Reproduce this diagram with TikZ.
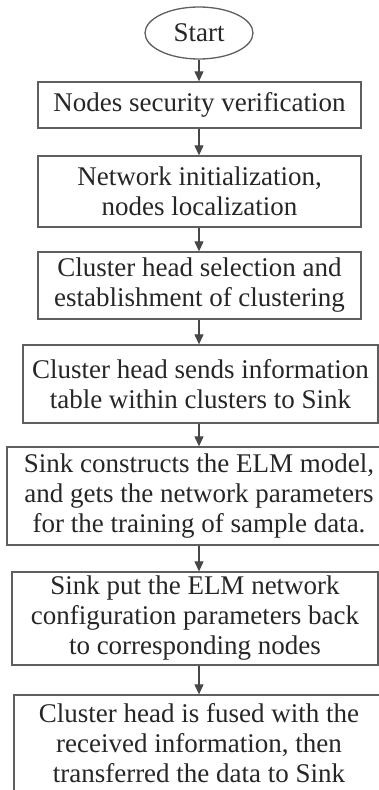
\documentclass[tikz,border=0pt]{standalone}
\usepackage{fontspec}
\setmainfont{Liberation Serif}
\usetikzlibrary{arrows.meta,shapes.geometric}

\definecolor{boxgray}{HTML}{5F5F5F}
\definecolor{arrowgray}{HTML}{474747}

\tikzset{
  box/.style = {draw = boxgray, line width = 1.3pt, align = center, inner sep = 0pt,
    font = \fontsize{27}{30}\selectfont, text = black!85},
  startbox/.style = {box, ellipse, minimum width = 108pt, minimum height = 52pt},
  flow/.style = {draw = arrowgray, line width = 1.1pt, -{Triangle[length = 10pt, width = 9pt]}}
}

\begin{document}
\begin{tikzpicture}
        [x = 1pt, y = -1pt]

        \useasboundingbox (0,0) rectangle (379,790);

        \node[startbox] (start) at (199,33) {Start};
        \node[box, minimum width = 323pt, minimum height = 46pt] (verify) at (199.5,105)
          {Nodes security verification};
        \node[box, minimum width = 323pt, minimum height = 71pt] (init) at (199.5,191.5)
          {Network initialization,\\ nodes localization};
        \node[box, minimum width = 323pt, minimum height = 67pt] (select) at (199.5,285.5)
          {Cluster head selection and\\ establishment of clustering};
        \node[box, minimum width = 355pt, minimum height = 78pt] (send) at (200.5,384)
          {Cluster head sends information\\ table within clusters to Sink};
        \node[box, minimum width = 384pt, minimum height = 98pt] (elm) at (199,496)
          {Sink constructs the ELM model,\\ and gets the network parameters\\ for the training of sample data.};
        \node[box, minimum width = 366pt, minimum height = 93pt] (config) at (195,618.5)
          {Sink put the ELM network\\ configuration parameters back\\ to corresponding nodes};
        \node[box, minimum width = 370pt, minimum height = 96pt] (fuse) at (199,743)
          {Cluster head is fused with the\\ received information, then\\ transferred the data to Sink};

        \coordinate (axis) at (199,0);
        \foreach \a/\b in {start/verify, verify/init, init/select, select/send,
                           send/elm, elm/config, config/fuse}
          \draw[flow] (\a.south -| axis) -- (\b.north -| axis);
      \end{tikzpicture}
\end{document}
